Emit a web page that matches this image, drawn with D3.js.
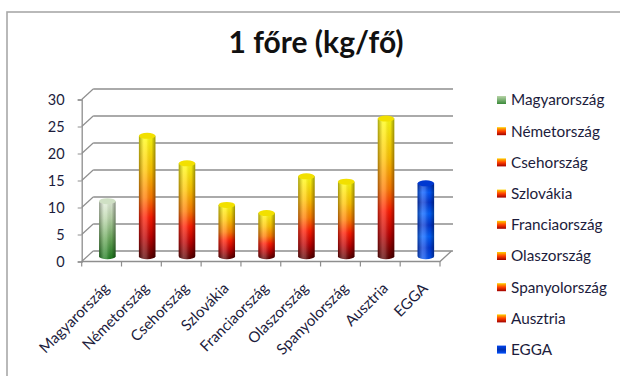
<!DOCTYPE html>
<html>
<head>
<meta charset="utf-8">
<script src="https://cdn.jsdelivr.net/npm/d3@7"></script>
<style>
  html, body { margin: 0; padding: 0; background: #fff; }
  svg { display: block; }
  text { font-family: Lato, "Open Sans", sans-serif; }
</style>
</head>
<body>
<svg id="chart" width="620" height="376"></svg>
<script>
// Per-capita amounts (kg per person)
const countries = ["Magyarország", "Németország", "Csehország", "Szlovákia", "Franciaország",
                   "Olaszország", "Spanyolország", "Ausztria", "EGGA"];
const values = [10.2, 22.3, 17.2, 9.5, 8.0, 14.8, 13.8, 25.5, 13.5];
const fills = ["green", "fire", "fire", "fire", "fire", "fire", "fire", "fire", "blue"];
const yTicks = [0, 5, 10, 15, 20, 25, 30];
const titleText = "1 főre (kg/fő)";

const svg = d3.select("#chart");
const defs = svg.append("defs");

// vertical colour ramps for the cylinders
function vGrad(id, stops) {
  const g = defs.append("linearGradient").attr("id", id)
    .attr("x1", 0).attr("y1", 0).attr("x2", 0).attr("y2", 1);
  stops.forEach(([o, c]) => g.append("stop").attr("offset", o).attr("stop-color", c));
}
vGrad("fire", [[0, "#ffff10"], [0.28, "#ffc400"], [0.5, "#ff7a00"], [0.66, "#ff1a00"], [0.82, "#c00000"], [1, "#560000"]]);
vGrad("green", [[0, "#e4eedc"], [0.3, "#b8d4a8"], [0.65, "#6aa85a"], [1, "#1c7a1c"]]);
vGrad("blue", [[0, "#0030c0"], [0.12, "#0058ff"], [0.25, "#0034d0"], [0.4, "#0060ff"], [0.55, "#0034d0"],
               [0.7, "#0060ff"], [0.85, "#0038d8"], [1, "#0050f0"]]);
vGrad("fireKey", [[0, "#ffd000"], [0.5, "#ff4000"], [1, "#a00000"]]);
vGrad("greenKey", [[0, "#b8d4a8"], [1, "#3a8a3a"]]);
vGrad("blueKey", [[0, "#0044ee"], [0.5, "#0030b0"], [1, "#0050ff"]]);

// horizontal shading that rounds the bars
const sh = defs.append("linearGradient").attr("id", "shade")
  .attr("x1", 0).attr("y1", 0).attr("x2", 1).attr("y2", 0);
[[0, "#000", 0.35], [0.3, "#fff", 0.25], [0.45, "#fff", 0.2], [0.75, "#000", 0.05], [1, "#000", 0.4]]
  .forEach(([o, c, a]) => sh.append("stop").attr("offset", o).attr("stop-color", c).attr("stop-opacity", a));

// outer frame
svg.append("rect").attr("x", 7).attr("y", 12).attr("width", 640).attr("height", 400)
  .attr("fill", "#fff").attr("stroke", "#a8a8a8").attr("stroke-width", 1.6);

// title
svg.append("text").attr("x", 316).attr("y", 53).attr("text-anchor", "middle")
  .attr("font-size", 30).attr("font-weight", "bold").attr("fill", "#111")
  .text(titleText);

// plot geometry: front plane plus a depth offset for the back wall
const x = d3.scaleBand().domain(countries).range([81.7, 440]);
const y = d3.scaleLinear().domain([0, 30]).range([261.5, 99.5]);
const dx = 11.5, dy = -10.5;
const gridColor = "#8e8e8e";

const grid = svg.append("g");
yTicks.forEach(t => {
  grid.append("line").attr("x1", 81.7 + dx).attr("x2", 453).attr("y1", y(t) + dy).attr("y2", y(t) + dy)
    .attr("stroke", gridColor).attr("stroke-width", 1.3);
  grid.append("line").attr("x1", 81.7).attr("x2", 81.7 + dx).attr("y1", y(t)).attr("y2", y(t) + dy)
    .attr("stroke", gridColor).attr("stroke-width", 1.2);
});
// floor outline
grid.append("path")
  .attr("d", `M${81.7},${y(0)}L440,${y(0)}L${440 + dx},${y(0) + dy}`)
  .attr("fill", "none").attr("stroke", gridColor).attr("stroke-width", 1.3);

// value axis on the front plane
const yAxis = svg.append("g").attr("transform", "translate(81.7,0)")
  .call(d3.axisLeft(y).tickValues(yTicks).tickSize(4).tickPadding(13));
yAxis.select(".domain").attr("stroke", gridColor).attr("stroke-width", 1.3);
yAxis.selectAll(".tick line").attr("stroke", gridColor);
yAxis.selectAll("text").attr("font-size", 14.5).attr("fill", "#1c1c3c")
  .style("font-family", "Lato, sans-serif");

// category axis
const xAxis = svg.append("g").attr("transform", `translate(0,${y(0)})`)
  .call(d3.axisBottom(x).tickSize(0).tickFormat(""));
xAxis.select(".domain").remove();
const bounds = countries.map(c => x(c)).concat([440]);
bounds.forEach(b => svg.append("line").attr("x1", b).attr("x2", b)
  .attr("y1", y(0)).attr("y2", y(0) + 5).attr("stroke", gridColor).attr("stroke-width", 1.2));
svg.append("g").selectAll("text").data(countries).join("text")
  .attr("transform", c => `translate(${x(c) + x.bandwidth() / 2 + 5},${y(0) + 24}) rotate(-45)`)
  .attr("text-anchor", "end").attr("dy", "0.35em")
  .attr("font-size", 15).attr("fill", "#1c1c3c")
  .text(c => c);

// cylinders, standing half way into the depth
const bw = 16.5, ry = 3;
const bars = svg.append("g").selectAll("g").data(countries).join("g");
bars.each(function (c, i) {
  const g = d3.select(this);
  const cx = x(c) + x.bandwidth() / 2 + dx / 2;
  const yb = y(0) + dy / 2, yt = y(values[i]) + dy / 2;
  const body = `M${cx - bw / 2},${yt}L${cx - bw / 2},${yb}A${bw / 2},${ry} 0 0 0 ${cx + bw / 2},${yb}L${cx + bw / 2},${yt}Z`;
  g.append("path").attr("d", body).attr("fill", `url(#${fills[i]})`);
  g.append("path").attr("d", body).attr("fill", "url(#shade)");
  g.append("ellipse").attr("cx", cx).attr("cy", yt).attr("rx", bw / 2).attr("ry", ry)
    .attr("fill", fills[i] === "fire" ? "#f2e000" : fills[i] === "green" ? "#cfe0c4" : "#0038d0");
});

// legend
const legend = svg.append("g").selectAll("g").data(countries).join("g")
  .attr("transform", (c, i) => `translate(497,${100 + i * 31.2})`);
legend.append("rect").attr("x", 0).attr("y", -4).attr("width", 9).attr("height", 8)
  .attr("fill", (c, i) => `url(#${fills[i]}Key)`);
legend.append("text").attr("x", 14).attr("y", 0).attr("dy", "0.35em")
  .attr("font-size", 15.3).attr("fill", "#1c1c3c").text(c => c);
</script>
</body>
</html>
